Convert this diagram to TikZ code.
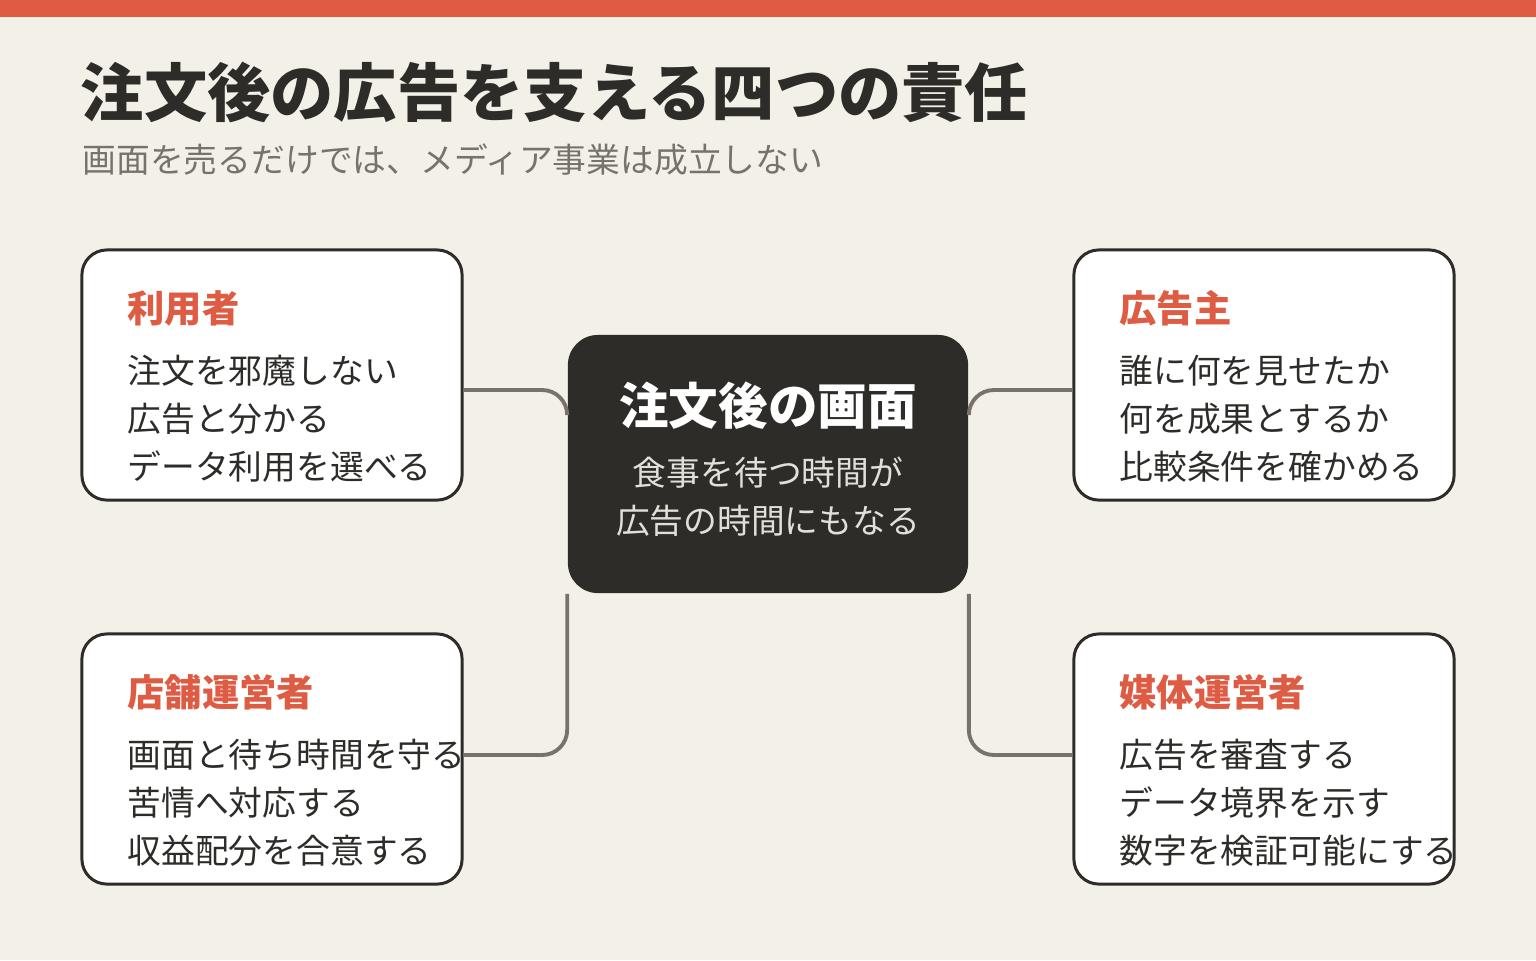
\documentclass[tikz,border=0pt]{standalone}
\usepackage{fontspec}
\setmainfont{Noto Sans CJK JP}
\usetikzlibrary{calc,positioning}
\definecolor{paper}{HTML}{F3F0E8}
\definecolor{accent}{HTML}{DD5C43}
\definecolor{ink}{HTML}{2D2C29}
\definecolor{wire}{HTML}{77736A}
\definecolor{sub}{HTML}{77736A}
\tikzset{
  card/.style={draw=ink, line width=0.85pt, fill=white, rounded corners=0.25cm,
    minimum width=3.8cm, minimum height=2.5cm, inner sep=0pt},
  role/.style={anchor=west, text=accent, font=\bfseries\fontsize{10.6}{12}\selectfont, inner sep=0pt},
  duty/.style={anchor=west, align=left, text=ink, font=\fontsize{9.6}{13.66}\selectfont, inner sep=0pt},
  link/.style={draw=wire, line width=1.1pt, rounded corners=0.25cm},
}
\begin{document}
\begin{tikzpicture}[x=0.01cm, y=-0.01cm]
  \useasboundingbox (0,0) rectangle (1536,960);
  \fill[paper] (0,0) rectangle (1536,960);
  \fill[accent] (0,0) rectangle (1536,17);
  % title
  \node[anchor=west, inner sep=0pt, text=ink, font=\bfseries\fontsize{18}{20}\selectfont] (title) at (80,92) {注文後の広告を支える四つの責任};
  \node[anchor=west, inner sep=0pt, text=sub, font=\fontsize{9.6}{11}\selectfont] (subtitle) at (82,160) {画面を売るだけでは、メディア事業は成立しない};
  % cards
  \node[card] (ul) at (272,375) {};
  \node[card] (ur) at (1264,375) {};
  \node[card] (ll) at (272,759) {};
  \node[card] (lr) at (1264,759) {};
  \node[fill=ink, rounded corners=0.3cm, minimum width=4cm, minimum height=2.58cm, inner sep=0pt] (ctr) at (768,464) {};
  % center text
  \node[text=white, font=\bfseries\fontsize{14.1}{15}\selectfont, inner sep=0pt] (ctrtitle) at (768,406) {注文後の画面};
  \node[text=paper!85!gray, align=center, font=\fontsize{9.6}{13.66}\selectfont, inner sep=0pt] (ctrtext) at (768,497) {食事を待つ時間が\\広告の時間にもなる};
  % card texts
  \node[role] (ulrole) at (127,308) {利用者};
  \node[duty] at (127,419) {注文を邪魔しない\\広告と分かる\\データ利用を選べる};
  \node[role] (urrole) at (1119,308) {広告主};
  \node[duty] at (1119,419) {誰に何を見せたか\\何を成果とするか\\比較条件を確かめる};
  \node[role] (llrole) at (127,692) {店舗運営者};
  \node[duty] at (127,803) {画面と待ち時間を守る\\苦情へ対応する\\収益配分を合意する};
  \node[role] (lrrole) at (1119,692) {媒体運営者};
  \node[duty] at (1119,803) {広告を審査する\\データ境界を示す\\数字を検証可能にする};
  % links
  \draw[link] ($(ul.east)+(0,15)$) -| ($(ctr.west)+(0,-49)$);
  \draw[link] ($(ur.west)+(0,15)$) -| ($(ctr.east)+(0,-49)$);
  \draw[link] (ctr.south west) |- ($(ll.east)+(0,-4)$);
  \draw[link] (ctr.south east) |- ($(lr.west)+(0,-4)$);
\end{tikzpicture}
\end{document}
